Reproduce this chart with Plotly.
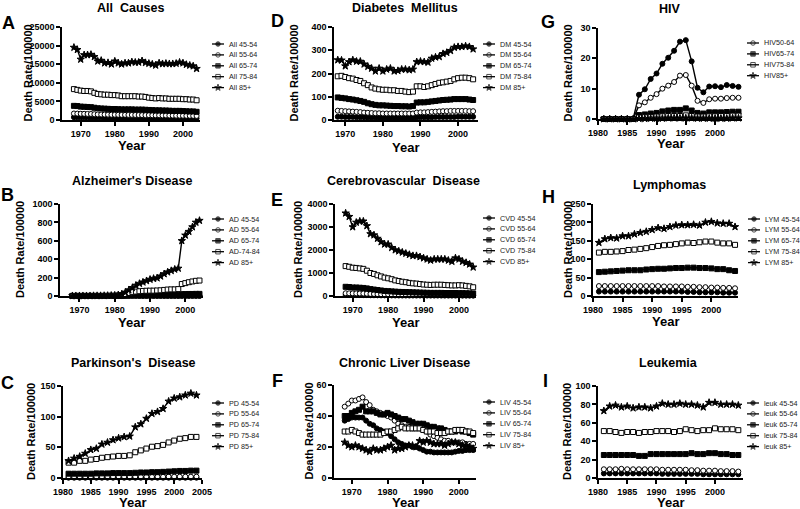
import plotly.graph_objects as go

W, H = 800, 509
FONT = "Liberation Sans, Arial, sans-serif"

# ---------------- data ----------------
years_68 = [1968, 1969, 1970, 1971, 1972, 1973, 1974, 1975, 1976, 1977, 1978, 1979,
            1980, 1981, 1982, 1983, 1984, 1985, 1986, 1987, 1988, 1989, 1990, 1991,
            1992, 1993, 1994, 1995, 1996, 1997, 1998, 1999, 2000, 2001, 2002, 2003, 2004]
years_81 = [1981, 1982, 1983, 1984, 1985, 1986, 1987, 1988, 1989, 1990, 1991, 1992,
            1993, 1994, 1995, 1996, 1997, 1998, 1999, 2000, 2001, 2002, 2003, 2004]

# A: All causes
all_45 = [760, 750, 730, 720, 710, 700, 680, 650, 640, 620, 600, 590, 580, 570, 560, 550, 540, 530, 520,
          520, 510, 510, 500, 500, 490, 490, 480, 480, 470, 470, 460, 460, 450, 450, 450, 440, 440]
all_55 = [1750, 1720, 1680, 1660, 1640, 1620, 1560, 1500, 1480, 1460, 1440, 1420, 1420, 1400, 1380, 1380,
          1370, 1370, 1360, 1340, 1320, 1300, 1290, 1270, 1250, 1250, 1230, 1220, 1200, 1180, 1170, 1160,
          1150, 1140, 1130, 1120, 1100]
all_65 = [3800, 3750, 3600, 3550, 3500, 3450, 3300, 3150, 3100, 3050, 3000, 2950, 2950, 2900, 2850, 2850,
          2850, 2850, 2800, 2800, 2800, 2750, 2700, 2650, 2600, 2600, 2550, 2550, 2500, 2450, 2450, 2450,
          2400, 2350, 2300, 2300, 2200]
all_75 = [8300, 8100, 7900, 7800, 7800, 7700, 7300, 7000, 6900, 6800, 6800, 6700, 6700, 6600, 6400, 6400,
          6400, 6400, 6400, 6300, 6300, 6200, 6000, 5900, 5800, 5900, 5800, 5800, 5700, 5700, 5700, 5700,
          5600, 5600, 5500, 5500, 5300]
all_85 = [19500, 18900, 16300, 17500, 17500, 17600, 17000, 15800, 16000, 15300, 15400, 15000, 15800, 15300,
          15000, 15300, 15300, 15600, 15500, 15500, 15900, 15400, 15200, 15000, 14700, 15300, 15100, 15200,
          15100, 15100, 15200, 15500, 15300, 14900, 14700, 14500, 13800]

# B: Alzheimer's disease
ad_45 = [0, 0, 0, 0, 0, 0, 0, 0, 0, 0, 0, 0, 0.05, 0.1, 0.1, 0.2, 0.2, 0.2, 0.2, 0.2, 0.2, 0.2, 0.2, 0.2,
         0.2, 0.2, 0.2, 0.2, 0.2, 0.2, 0.2, 0.3, 0.3, 0.3, 0.3, 0.3, 0.3]
ad_55 = [0.1, 0.1, 0.1, 0.1, 0.1, 0.1, 0.1, 0.1, 0.1, 0.1, 0.1, 0.1, 0.1, 0.2, 0.4, 0.7, 1.0, 1.2, 1.3, 1.4,
         1.4, 1.5, 1.5, 1.5, 1.6, 1.6, 1.7, 1.7, 1.8, 1.8, 1.9, 2.6, 2.7, 2.8, 2.8, 2.9, 3.0]
ad_65 = [0.3, 0.3, 0.3, 0.3, 0.3, 0.3, 0.3, 0.3, 0.3, 0.4, 0.4, 0.5, 0.8, 1.5, 3, 5, 7, 8, 9, 10, 10, 10,
         11, 11, 11, 12, 12, 13, 13, 13, 14, 20, 21, 22, 22, 23, 23]
ad_75 = [1, 1, 1, 1, 1, 1, 1, 1, 1, 1, 2, 2, 3, 5, 10, 20, 32, 42, 48, 52, 55, 57, 58, 58, 60, 62, 66, 70,
         72, 72, 75, 130, 140, 150, 158, 165, 168]
ad_85 = [2, 2, 2, 2, 2, 2, 3, 3, 3, 4, 5, 6, 8, 12, 20, 40, 65, 90, 115, 135, 150, 165, 180, 190, 195, 215,
         240, 260, 275, 290, 300, 600, 660, 700, 750, 800, 820]

# C: Parkinson's disease
pd_45 = [0.5, 0.5, 0.5, 0.5, 0.5, 0.5, 0.5, 0.5, 0.5, 0.5, 0.5, 0.5, 0.5, 0.5, 0.5, 0.5, 0.5, 0.5, 0.5,
         0.5, 0.5, 0.5, 0.5, 0.5]
pd_55 = [2, 2, 2, 2, 2, 2, 2, 2, 2, 2, 2, 2, 2, 2, 2, 2, 2, 2, 2.2, 2.2, 2.2, 2.2, 2.2, 2.2]
pd_65 = [7, 7, 7, 7, 7, 7.5, 7.5, 7.5, 8, 8, 8, 8, 8.5, 9, 9, 9.5, 9.5, 10, 10.5, 11, 11.5, 11.5, 12, 12]
pd_75 = [25, 25, 28, 28, 30, 31, 33, 34, 35, 36, 36, 37, 42, 45, 48, 51, 52, 54, 58, 61, 64, 65, 67, 67]
pd_85 = [28, 32, 35, 40, 46, 48, 55, 58, 62, 65, 67, 68, 83, 88, 97, 105, 108, 113, 125, 130, 132, 135,
         138, 135]

# D: Diabetes mellitus
dm_45 = [14, 14, 13, 13, 13, 12, 12, 12, 11, 11, 11, 10, 10, 10, 10, 10, 10, 10, 10, 10, 10, 11, 12, 12,
         12, 12, 13, 13, 13, 13, 13, 13, 14, 14, 14, 14, 14]
dm_55 = [40, 39, 38, 37, 36, 35, 34, 32, 31, 30, 29, 29, 28, 28, 28, 28, 28, 28, 28, 28, 28, 32, 33, 33,
         34, 35, 36, 37, 38, 38, 39, 39, 39, 39, 39, 38, 38]
dm_65 = [97, 95, 93, 90, 88, 85, 82, 78, 72, 68, 65, 63, 63, 62, 61, 60, 60, 59, 59, 58, 60, 75, 76, 76,
         78, 80, 82, 84, 86, 87, 88, 90, 90, 90, 90, 88, 86]
dm_75 = [188, 190, 185, 180, 178, 172, 168, 158, 150, 140, 135, 132, 130, 130, 128, 128, 125, 125, 122,
         120, 122, 145, 145, 142, 145, 150, 155, 160, 162, 165, 168, 175, 180, 182, 182, 180, 175]
dm_85 = [258, 257, 232, 250, 258, 252, 252, 240, 230, 222, 210, 222, 210, 218, 222, 210, 212, 218, 218,
         215, 218, 250, 252, 250, 248, 265, 270, 272, 285, 290, 298, 312, 315, 315, 318, 315, 305]

# E: Cerebrovascular disease
cvd_45 = [42, 41, 40, 40, 39, 38, 36, 33, 31, 29, 27, 26, 25, 24, 23, 22, 21, 21, 20, 20, 19, 19, 18, 18,
          18, 18, 18, 18, 17, 17, 17, 17, 17, 16, 16, 16, 15]
cvd_55 = [120, 118, 115, 113, 110, 108, 100, 92, 88, 82, 77, 73, 70, 67, 64, 62, 60, 58, 56, 54, 52, 50,
          49, 48, 47, 47, 47, 46, 46, 45, 45, 45, 45, 44, 43, 42, 40]
cvd_65 = [400, 390, 370, 370, 360, 350, 330, 300, 280, 260, 240, 220, 210, 200, 190, 180, 175, 170, 165,
          160, 155, 150, 145, 140, 135, 135, 135, 135, 130, 130, 130, 130, 125, 125, 120, 115, 110]
cvd_75 = [1300, 1270, 1230, 1220, 1200, 1180, 1100, 1000, 960, 900, 850, 800, 770, 730, 680, 650, 620, 600,
          570, 550, 540, 520, 500, 490, 480, 490, 490, 490, 480, 470, 460, 460, 470, 460, 440, 420, 380]
cvd_85 = [3600, 3450, 3000, 3200, 3250, 3250, 3050, 2700, 2650, 2500, 2350, 2250, 2250, 2100, 2000, 1950,
          1900, 1850, 1800, 1750, 1750, 1700, 1650, 1600, 1550, 1600, 1600, 1600, 1600, 1550, 1500, 1650,
          1600, 1500, 1450, 1380, 1250]

# F: Chronic liver disease
liv_45 = [37, 38, 39, 39, 39, 39, 37, 35, 34, 32, 31, 30, 29, 27, 25, 23, 22, 21, 21, 20, 20, 19, 18, 17,
          17, 16.5, 16.5, 16.5, 16.5, 16.5, 16.5, 17, 17.5, 17.5, 18, 18, 18]
liv_55 = [46, 48, 50, 50, 51, 52, 49, 47, 44, 43, 42, 41, 40, 39, 37, 35, 34, 33, 33, 32, 32, 32, 31, 30,
          28, 27, 26, 25, 24, 24, 23, 23, 23, 23, 22, 22, 22]
liv_65 = [40, 40, 42, 43, 44, 46, 43, 43, 43, 42, 41, 41, 42, 41, 40, 39, 38, 38, 37, 36, 35, 35, 35, 34,
          33, 33, 32, 32, 31, 30, 30, 30, 31, 30, 30, 29, 28]
liv_75 = [30, 30, 31, 30, 29, 28, 28, 28, 28, 28, 28, 29, 30, 30, 31, 32, 33, 32, 32, 32, 32, 32, 31, 30,
          30, 30, 29, 29, 29, 30, 30, 31, 31, 31, 30, 30, 29]
liv_85 = [23, 21, 20, 21, 20, 19, 18, 17, 19, 18, 18, 19, 20, 21, 18, 19, 19, 20, 21, 21, 20, 24, 23, 24,
          23, 22, 22, 22, 21, 22, 23, 23, 22, 21, 21, 20, 19]

# G: HIV
hiv_45 = [0, 0, 0, 0, 0, 0, 8.0, 9.8, 13.2, 15.0, 18.2, 20.2, 22.5, 25.5, 26.0, 19.0, 10.3, 8.8, 10.7,
          10.8, 10.5, 11.2, 10.9, 10.6]
hiv_55 = [0, 0, 0, 0, 0, 0, 4.5, 5.5, 7.0, 8.2, 10.0, 11.0, 12.2, 14.3, 14.5, 11.0, 6.0, 5.3, 6.5, 6.7,
          6.7, 6.9, 7.0, 7.0]
hiv_65 = [0, 0, 0, 0, 0, 0, 1.3, 1.5, 1.8, 2.0, 2.5, 2.8, 3.0, 3.0, 3.5, 2.8, 2.0, 1.8, 2.2, 2.2, 2.2,
          2.3, 2.4, 2.4]
hiv_75 = [0, 0, 0, 0, 0, 0, 0.5, 0.6, 0.7, 0.8, 0.9, 1.0, 1.0, 1.0, 1.2, 1.0, 0.8, 0.8, 0.9, 0.9, 1.0,
          1.0, 1.1, 1.1]
hiv_85 = [0, 0, 0, 0, 0, 0, 0.1, 0.1, 0.2, 0.2, 0.2, 0.3, 0.3, 0.3, 0.3, 0.3, 0.2, 0.2, 0.2, 0.2, 0.2,
          0.2, 0.3, 0.3]

# H: Lymphomas
lym_45 = [12, 12, 12, 12, 12, 12, 12, 12, 12, 12, 12, 12, 12, 12, 12, 11, 11, 10, 10, 10, 10, 9, 9, 9]
lym_55 = [27, 27, 27, 27, 27, 27, 27, 27, 27, 27, 27, 26, 26, 26, 26, 25, 25, 24, 24, 23, 23, 22, 22, 21]
lym_65 = [65, 66, 67, 68, 69, 70, 70, 70, 72, 73, 74, 74, 75, 76, 76, 77, 77, 76, 76, 75, 73, 73, 70, 68]
lym_75 = [118, 120, 120, 121, 122, 125, 126, 128, 130, 133, 136, 138, 139, 141, 143, 145, 144, 146, 148,
          148, 145, 143, 143, 139]
lym_85 = [145, 155, 158, 157, 163, 163, 168, 172, 175, 180, 185, 183, 188, 192, 193, 193, 194, 192, 200,
          202, 198, 197, 197, 188]

# I: Leukemia
leuk_45 = [5, 5, 5, 5, 5, 5, 5, 5, 5, 5, 4.5, 4.5, 4.5, 4.5, 4.5, 4.5, 4.5, 4, 4, 4, 4, 4, 4, 4]
leuk_55 = [9.5, 9.5, 9.5, 10, 9.5, 9.5, 9.5, 9.5, 9.5, 9.5, 9, 9, 9, 9, 9, 8.5, 8.5, 8, 8, 8, 7.5, 7.5,
           7.5, 7]
leuk_65 = [25, 25, 25, 25, 25, 25, 24, 24, 26, 26, 26, 26, 26, 26, 26, 27, 26, 26, 27, 27, 26, 26, 25, 25]
leuk_75 = [51, 51, 50, 49, 50, 50, 49, 50, 50, 51, 51, 51, 50, 51, 53, 52, 51, 52, 52, 54, 53, 53, 53, 52]
leuk_85 = [73, 78, 79, 77, 78, 76, 77, 77, 76, 78, 81, 80, 80, 81, 80, 80, 79, 77, 82, 82, 80, 80, 80, 79]

# marker style per age group: (symbol, fill, size)
STY = {
    "45": ("circle", "black", 5),
    "55": ("circle", "white", 5),
    "65": ("square", "black", 5),
    "75": ("square", "white", 5),
    "85": ("star", "black", 5.5),
}

# ---------------- panel layout (pixels) ----------------
panels = [
    dict(letter="A", title="All  Causes", years=years_68,
         series=[("All 45-54", all_45, "45", True), ("All 55-64", all_55, "55", True),
                 ("All 65-74", all_65, "65", True), ("All 75-84", all_75, "75", True),
                 ("All 85+", all_85, "85", True)],
         box=(62, 200, 27, 120), xr=[1964.5, 2005], xt=[1970, 1980, 1990, 2000],
         yr=[0, 25000], dy=5000, leg=(212, 44), tpos=(130, 8), lpos=(8, 23), ytx=27, yeary=145),
    dict(letter="B", title="Alzheimer's Disease", years=years_68,
         series=[("AD 45-54", ad_45, "45", True), ("AD 55-64", ad_55, "55", True),
                 ("AD 65-74", ad_65, "65", True), ("AD-74-84", ad_75, "75", True),
                 ("AD 85+", ad_85, "85", True)],
         box=(60, 203, 204, 296), xr=[1964.5, 2005], xt=[1970, 1980, 1990, 2000],
         yr=[0, 1000], dy=200, leg=(212, 219), tpos=(132, 181), lpos=(7, 195), ytx=20, yeary=322),
    dict(letter="C", title="Parkinson's  Disease", years=years_81,
         series=[("PD 45-54", pd_45, "45", True), ("PD 55-64", pd_55, "55", True),
                 ("PD 65-74", pd_65, "65", True), ("PD 75-84", pd_75, "75", True),
                 ("PD 85+", pd_85, "85", True)],
         box=(63, 202, 386, 478), xr=[1980, 2005], xt=[1980, 1985, 1990, 1995, 2000, 2005],
         yr=[0, 150], dy=50, leg=(212, 403), tpos=(133, 363), lpos=(7, 383), ytx=31, yeary=502),
    dict(letter="D", title="Diabetes  Mellitus", years=years_68,
         series=[("DM 45-54", dm_45, "45", True), ("DM 55-64", dm_55, "55", True),
                 ("DM 65-74", dm_65, "65", True), ("DM 75-84", dm_75, "75", True),
                 ("DM 85+", dm_85, "85", True)],
         box=(334, 478, 27, 120), xr=[1967, 2005.3], xt=[1970, 1980, 1990, 2000],
         yr=[0, 400], dy=100, leg=(483, 44), tpos=(405, 8), lpos=(277, 21), ytx=293, yeary=147),
    dict(letter="E", title="Cerebrovascular  Disease", years=years_68,
         series=[("CVD 45-54", cvd_45, "45", True), ("CVD 55-64", cvd_55, "55", True),
                 ("CVD 65-74", cvd_65, "65", True), ("CVD 75-84", cvd_75, "75", True),
                 ("CVD 85+", cvd_85, "85", True)],
         box=(335, 476, 204, 296), xr=[1965, 2004.8], xt=[1970, 1980, 1990, 2000],
         yr=[0, 4000], dy=1000, leg=(483, 218), tpos=(403, 181), lpos=(277, 200), ytx=298, yeary=322),
    dict(letter="F", title="Chronic Liver Disease", years=years_68,
         series=[("LIV 45-54", liv_45, "45", True), ("LIV 55-64", liv_55, "55", True),
                 ("LIV 65-74", liv_65, "65", True), ("LIV 75-84", liv_75, "75", True),
                 ("LIV 85+", liv_85, "85", True)],
         box=(334, 476, 385, 478), xr=[1965, 2004.8], xt=[1970, 1980, 1990, 2000],
         yr=[0, 60], dy=20, leg=(483, 402), tpos=(404, 363), lpos=(277, 381), ytx=308, yeary=502),
    dict(letter="G", title="HIV", years=years_81,
         series=[("HIV45-54", hiv_45, "45", False), ("HIV50-64", hiv_55, "55", True),
                 ("HIV65-74", hiv_65, "65", True), ("HIV75-84", hiv_75, "75", True),
                 ("HIV85+", hiv_85, "85", True)],
         box=(598, 742, 28, 119), xr=[1980, 2004.6], xt=[1980, 1985, 1990, 1995, 2000],
         yr=[0, 30], dy=10, leg=(747, 43), tpos=(670, 9), lpos=(548, 22), ytx=567, yeary=143),
    dict(letter="H", title="Lymphomas", years=years_81,
         series=[("LYM 45-54", lym_45, "45", True), ("LYM 55-64", lym_55, "55", True),
                 ("LYM 65-74", lym_65, "65", True), ("LYM 75-84", lym_75, "75", True),
                 ("LYM 85+", lym_85, "85", True)],
         box=(593, 738, 204, 296), xr=[1980, 2004.5], xt=[1980, 1985, 1990, 1995, 2000],
         yr=[0, 250], dy=50, leg=(748, 219), tpos=(669, 185), lpos=(548, 197), ytx=568, yeary=321),
    dict(letter="I", title="Leukemia", years=years_81,
         series=[("leuk 45-54", leuk_45, "45", True), ("leuk 55-64", leuk_55, "55", True),
                 ("leuk 65-74", leuk_65, "65", True), ("leuk 75-84", leuk_75, "75", True),
                 ("leuk 85+", leuk_85, "85", True)],
         box=(598, 743, 386, 478), xr=[1980, 2004.8], xt=[1980, 1985, 1990, 1995, 2000],
         yr=[0, 100], dy=20, leg=(747, 403), tpos=(668, 363), lpos=(545, 381), ytx=567, yeary=502),
]

LEG_DY = 10.9


def px(x):
    return x / W


def py(y):
    return 1 - y / H


fig = go.Figure()
layout = dict(template="none", width=W, height=H, margin=dict(l=0, r=0, t=0, b=0, pad=0),
              paper_bgcolor="white", plot_bgcolor="rgba(0,0,0,0)", showlegend=False,
              font=dict(family=FONT, color="black"))
annotations = []
shapes = []

leg_x, leg_y, leg_sym, leg_col, leg_size = [], [], [], [], []

for i, p in enumerate(panels):
    n = i + 1
    xa, ya = f"x{n}", f"y{n}"
    x0, x1, y0, y1 = p["box"]
    for name, vals, key, _ in p["series"]:
        sym, fill, sz = STY[key]
        fig.add_trace(go.Scatter(
            x=p["years"], y=vals, name=name, mode="lines+markers",
            line=dict(color="black", width=1.4),
            marker=dict(symbol=sym, size=sz, color=fill, line=dict(color="black", width=1)),
            xaxis=xa, yaxis=ya, cliponaxis=False, showlegend=False))
    axcommon = dict(showline=True, linecolor="black", linewidth=1.5, ticks="outside",
                    ticklen=4, tickwidth=1.5, tickcolor="black", showgrid=False, zeroline=False,
                    automargin=False, tickformat="d",
                    tickfont=dict(family=FONT, size=9, color="black", weight="bold"))
    layout[f"xaxis{n}"] = dict(domain=[px(x0), px(x1)], range=p["xr"], tickmode="array",
                               tickvals=p["xt"], anchor=ya, **axcommon)
    layout[f"yaxis{n}"] = dict(domain=[py(y1), py(y0)], range=p["yr"], tickmode="linear",
                               dtick=p["dy"], tick0=0, anchor=xa, **axcommon)
    # title, letter, axis titles
    annotations.append(dict(text=f"<b>{p['title']}</b>", x=px(p["tpos"][0]), y=py(p["tpos"][1]),
                            xref="paper", yref="paper", showarrow=False, xanchor="center",
                            yanchor="middle", font=dict(size=12.5, family=FONT, color="black")))
    annotations.append(dict(text=f"<b>{p['letter']}</b>", x=px(p["lpos"][0]), y=py(p["lpos"][1]),
                            xref="paper", yref="paper", showarrow=False, xanchor="center",
                            yanchor="middle", font=dict(size=18, family=FONT, color="black")))
    annotations.append(dict(text="<b>Death Rate/100000</b>", x=px(p["ytx"]),
                            y=py((y0 + y1) / 2), xref="paper", yref="paper", showarrow=False,
                            textangle=-90, xanchor="center", yanchor="middle",
                            font=dict(size=11, family=FONT, color="black")))
    annotations.append(dict(text="<b>Year</b>", x=px((x0 + x1) / 2), y=py(p["yeary"]),
                            xref="paper", yref="paper", showarrow=False, xanchor="center",
                            yanchor="middle", font=dict(size=13, family=FONT, color="black")))
    # manual compact legend
    lx, ly = p["leg"]
    k = 0
    for name, vals, key, show in p["series"]:
        if not show:
            continue
        yy = ly + k * LEG_DY
        shapes.append(dict(type="line", xref="paper", yref="paper", x0=px(lx), x1=px(lx + 12),
                           y0=py(yy), y1=py(yy), line=dict(color="black", width=1.3)))
        sym, fill, sz = STY[key]
        leg_x.append(lx + 6)
        leg_y.append(yy)
        leg_sym.append(sym)
        leg_col.append(fill)
        leg_size.append(sz - 0.5)
        annotations.append(dict(text=name, x=px(lx + 15), y=py(yy), xref="paper", yref="paper",
                                showarrow=False, xanchor="left", yanchor="middle",
                                font=dict(size=7.2, family=FONT, color="#222")))
        k += 1

# legend sample markers on an invisible full-figure overlay axis (pixel units)
fig.add_trace(go.Scatter(x=leg_x, y=leg_y, mode="markers", xaxis="x10", yaxis="y10",
                         marker=dict(symbol=leg_sym, color=leg_col, size=leg_size,
                                     line=dict(color="black", width=1)),
                         showlegend=False, hoverinfo="skip", cliponaxis=False))
layout["xaxis10"] = dict(domain=[0, 1], range=[0, W], visible=False, anchor="y10",
                         fixedrange=True, automargin=False)
layout["yaxis10"] = dict(domain=[0, 1], range=[H, 0], visible=False, anchor="x10",
                         fixedrange=True, automargin=False)

layout["annotations"] = annotations
layout["shapes"] = shapes
fig.update_layout(**layout)
fig.write_html("out.html", config={"displayModeBar": False},
               post_script="document.body.style.margin='0';document.body.style.overflow='hidden';")
